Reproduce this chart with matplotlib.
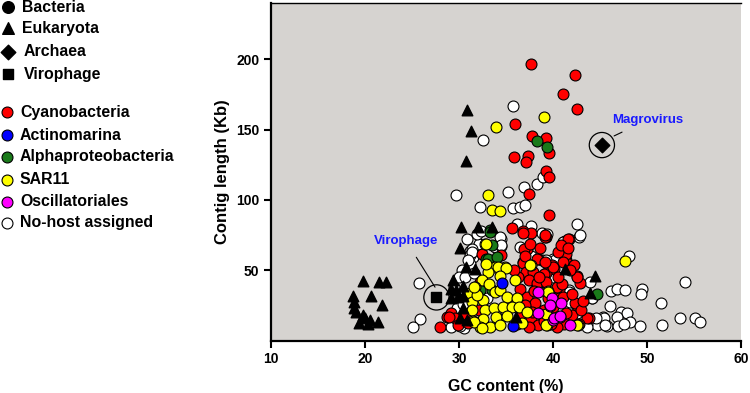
import matplotlib
matplotlib.use("Agg")
import matplotlib.pyplot as plt
import numpy as np

plt.rcParams['font.family'] = ['Liberation Sans', 'DejaVu Sans']
plt.rcParams['font.weight'] = 'bold'

# ---- data (GC %, contig length Kb) ----
nohost_x = [35.7, 32.5, 29.7, 35.2, 36.9, 38.3, 38.9, 32.2, 35.7, 36.5, 37.0, 42.5, 42.8, 41.3, 38.8,
            37.7, 36.2, 34.5, 33.8, 34.5, 31.2, 31.5, 31.2, 32.1, 36.5, 37.7, 40.0, 38.8,
            39.4, 41.1, 48.1, 54.0, 46.2, 46.8, 47.7, 49.5, 49.4, 46.1, 51.5, 47.2, 47.9, 45.3, 46.8,
            48.2, 49.3, 51.6, 53.5, 55.1, 55.6, 45.7, 44.7, 46.9, 44.1, 43.9, 41.8, 41.7, 43.6, 42.5,
            40.2, 45.4, 45.5, 47.5,
            25.7, 25.9, 25.1, 31.4, 31.2, 31.9, 34.4, 34.5, 30.3, 30.1, 30.8, 29.8, 29.2, 30.5, 42.9,
            41.1, 39.3, 41.7, 44.1, 41.8, 44.6, 43.6, 41.3, 30.1, 31.4, 29.5, 30.0, 33.0, 35.0, 38.0, 40.0,
            30.6, 31.0, 30.9, 31.6, 32.3, 30.4]
nohost_y = [166.9, 142.8, 103.6, 105.5, 109.5, 111.4, 116, 95.3, 94.4, 94.8, 96.5, 82.6, 74, 70.8, 76.4,
            81.2, 82.6, 72.4, 66.5, 67, 64, 59.4, 54.7, 68.9, 66.5, 60, 58.3, 57,
            76, 70, 59.9, 41.7, 35.4, 37, 36.3, 37, 33, 24.5, 26.8, 20.5, 19.8, 16.5, 17,
            13.4, 10.3, 11, 15.8, 15.8, 13.4, 10.3, 11, 10.3, 30, 41.7, 31, 36.3, 11.8, 19.3,
            57, 15.8, 11, 12,
            40.6, 15.1, 9.8, 65.4, 60.6, 76, 73.6, 67.7, 50, 31, 28.7, 22.9, 9.8, 8.7, 74.8,
            70, 57, 34.6, 30, 27.5, 15.8, 9.8, 15.8, 10.3, 63, 38, 45, 30, 20, 35, 45,
            45, 57, 72, 48, 78, 26]

cyano_x = [37.7, 42.3, 41.1, 42.6, 36.0, 37.8, 39.3, 39.6, 35.8, 37.3, 37.1, 39.3, 39.6, 37.4,
           39.6, 35.6, 36.8, 37.7, 39.3, 41.7, 37.2, 41.2, 32.4, 34.5, 41.4, 36.8, 38.4, 39.9,
           39.1, 41.4, 40.1, 42.5, 42.9, 39.0, 39.3, 40.6, 42.5, 42.0, 43.8, 41.2, 40.6,
           36.8, 37.1, 37.9, 39.0, 40.0, 37.4, 38.3, 39.3, 40.4, 36.5, 37.2, 38.1, 39.0, 37.0,
           36.5, 37.7, 38.4, 37.4, 40.4, 41.4, 42.3, 41.1, 42.5, 41.4, 41.1, 42.2, 43.6, 36.9,
           38.3, 39.1, 36.8, 39.1, 41.6,
           28.7, 29.2, 28.0, 29.6, 30.5, 29.9, 31.0, 32.1, 32.2, 28.9,
           38.0, 39.5, 38.8, 40.0, 36.0, 37.8, 39.0, 41.0, 42.0, 43.0, 38.5, 40.5, 36.3, 35.8,
           37.0, 40.5, 41.8, 43.2, 42.8, 39.8, 36.2, 40.8, 41.6, 37.6, 38.6]
cyano_y = [196.4, 188.6, 175.6, 165, 154, 145.6, 143.7, 133.4, 130.3, 131, 126.7, 120.3, 116, 104.3,
           89, 80, 77.6, 76.4, 74, 72.4, 65.4, 62.3, 61.3, 60.6, 57, 55.9, 58.3, 53.5,
           74, 56, 51.2, 45.8, 40.6, 41.7, 48, 36.3, 24.5, 18.1, 15.8, 11.8, 30,
           55.2, 48.8, 48.8, 47.7, 52.3, 42.9, 40.6, 41.7, 38.2, 37, 31, 26.4, 21.7, 25.2,
           18.1, 15.8, 11, 9.8, 9.8, 19.3, 26.4, 31, 45.3, 61.8, 55.9, 53.5, 15.8, 65.4,
           58.3, 55.9, 76.4, 74.8, 72.4,
           17, 19.3, 9.8, 15.8, 17.4, 11, 12.2, 21.7, 41.7, 17,
           35, 30, 18, 24, 28, 20, 14, 40, 33, 22, 45, 45, 45, 50,
           60, 63, 50, 28, 12, 12, 12, 68, 66, 69, 66]

alpha_x = [38.3, 39.4, 33.3, 33.5, 32.9, 33.8, 33.3, 33.1, 34.0, 32.2, 33.5, 44.7]
alpha_y = [142, 137.8, 78.8, 67.7, 58.3, 57, 77, 58.3, 59.4, 35.8, 35.8, 33]

sar11_x = [33.9, 39.0, 33.1, 33.5, 34.4, 32.8, 37.7, 33.8, 34.9, 47.7, 39.5, 39.3, 39.4, 42.7,
           32.9, 34.2, 35.0, 33.1, 32.4, 33.2, 34.4, 36.0, 31.7, 31.2, 31.4, 32.6, 33.8, 34.4,
           35.1, 36.2, 31.4, 32.8, 33.7, 34.7, 35.6, 36.4, 37.2, 31.5, 32.6, 33.9, 35.1, 32.2,
           33.3, 34.4, 36.7, 37.6, 39.5, 39.3, 42.5, 32.9, 31.9, 31.6, 31.6, 32.4]
sar11_y = [152, 159, 103.6, 93, 91.8, 68.4, 53.5, 52.3, 52.3, 56.4, 35.4, 18.8, 11, 11,
           68.4, 52.3, 51.9, 48.8, 43.4, 40, 45.7, 43.4, 38.2, 33.5, 27.5, 28.7, 34.6, 35.8,
           31, 30, 21.7, 21.7, 22.9, 24, 24, 24, 20.5, 14.1, 15.1, 16.5, 17.4, 9.8,
           9.8, 11, 12.2, 53.5, 34.6, 11, 11, 54.7, 32.3, 38.2, 13.4, 8.7]

oscill_x = [39.9, 40.9, 39.7, 40.7, 40.0, 41.8, 38.4, 38.4, 40.1, 40.7, 39.7]
oscill_y = [30, 26.8, 24.5, 17, 15, 11, 34.6, 19.3, 15.8, 17.4, 25.2]

actino_x = [34.6, 35.7]
actino_y = [40.6, 10.3]

euk_x = [19.8, 21.5, 22.2, 18.7, 20.6, 21.8, 18.8, 18.8, 19.8, 19.4, 20.3, 21.4, 20.0, 19.0, 20.5,
         30.9, 31.3, 30.7, 30.2, 32.0, 33.5, 30.1, 30.7, 31.7, 29.4, 29.2, 29.7, 29.2, 30.4, 29.9,
         30.8, 30.4, 30.4, 30.1, 41.3, 44.5, 43.9, 36.1]
euk_y = [42.2, 41.5, 41.5, 31.6, 31.6, 25.2, 27.3, 23.1, 18.1, 12.5, 11.8, 13.2, 16, 20, 14.6,
         164, 149, 128, 81, 81, 81, 66, 52, 51, 43, 37, 36, 30, 39, 31,
         14.6, 32, 23, 16, 51, 46, 34, 17]

archaea_x, archaea_y = [45.2], [139]        # Magrovirus
virophage_x, virophage_y = [27.6], [30.7]

fig = plt.figure(figsize=(7.5, 3.93), dpi=100)
ax = fig.add_axes([271 / 750, 1 - 340.6 / 393, 470 / 750, 337.6 / 393])
ax.set_facecolor('#d6d3d0')

ms = 62
ek = dict(edgecolors='black', linewidths=0.8)
ax.scatter(nohost_x, nohost_y, s=ms, c='white', zorder=2, **ek)
ax.scatter(cyano_x, cyano_y, s=ms, c='#ff0000', zorder=3, **ek)
ax.scatter(alpha_x, alpha_y, s=ms, c='#1a7a1a', zorder=3, **ek)
ax.scatter(sar11_x, sar11_y, s=ms, c='#ffff00', zorder=4, **ek)
ax.scatter(oscill_x, oscill_y, s=ms, c='#ff00ff', zorder=4, **ek)
ax.scatter(actino_x, actino_y, s=ms, c='#0000ff', zorder=5, **ek)
ax.scatter(euk_x, euk_y, s=58, marker='^', c='black', zorder=5)
ax.scatter(archaea_x, archaea_y, s=55, marker='D', c='black', zorder=5)
ax.scatter(virophage_x, virophage_y, s=45, marker='s', c='black', zorder=5)

# rings around highlighted viruses
ax.scatter(archaea_x + virophage_x, archaea_y + virophage_y, s=330, facecolors='none',
           edgecolors='black', linewidths=0.9, zorder=5)

ax.annotate('Virophage', xy=(27.45, 38), xytext=(24.4, 70.5), color='#1a1aff',
            fontsize=9.5, fontweight='bold', ha='center', va='center',
            arrowprops=dict(arrowstyle='-', color='black', lw=0.8, shrinkA=6, shrinkB=0))
ax.annotate('Magrovirus', xy=(46.5, 145.5), xytext=(50.1, 157), color='#1a1aff',
            fontsize=9.5, fontweight='bold', ha='center', va='center',
            arrowprops=dict(arrowstyle='-', color='black', lw=0.8, shrinkA=6, shrinkB=0))

ax.set_xlim(10, 60)
ax.set_ylim(0, 240)
ax.set_xticks([10, 20, 30, 40, 50, 60])
ax.set_yticks([50, 100, 150, 200])
ax.tick_params(direction='out', length=5, width=1.5, labelsize=10)
for lab in ax.get_xticklabels() + ax.get_yticklabels():
    lab.set_fontweight('bold')
ax.spines['left'].set_linewidth(1.6)
ax.spines['bottom'].set_linewidth(1.6)
ax.spines['top'].set_linewidth(1.0)
ax.spines['right'].set_visible(False)
ax.set_xlabel('GC content (%)', fontsize=11.5, fontweight='bold', labelpad=9)
ax.set_ylabel('Contig length (Kb)', fontsize=12, fontweight='bold', labelpad=4)

# ---- legend drawn on an overlay in pixel coordinates ----
lax = fig.add_axes([0, 0, 1, 1], zorder=10)
lax.set_xlim(0, 750)
lax.set_ylim(393, 0)
lax.axis('off')

shape_labels = ['Bacteria', 'Eukaryota', 'Archaea', 'Virophage']
shape_markers = ['o', '^', 'D', 's']
shape_sizes = [70, 70, 55, 55]
shape_rows = [7, 28, 52, 74]
for lab, mk, sz, yy in zip(shape_labels, shape_markers, shape_sizes, shape_rows):
    lax.scatter([7.5], [yy], marker=mk, s=sz, c='black')
    lax.text(22 if mk in 'o^' else 23.5, yy, lab, fontsize=11.4, fontweight='bold', va='center')

host_labels = ['Cyanobacteria', 'Actinomarina', 'Alphaproteobacteria', 'SAR11',
               'Oscillatoriales', 'No-host assigned']
host_colors = ['#ff0000', '#0000ff', '#1a7a1a', '#ffff00', '#ff00ff', 'white']
host_rows = [112, 135, 157, 180, 202, 223]
for lab, col, yy in zip(host_labels, host_colors, host_rows):
    lax.scatter([6.5], [yy], s=62, c=col, edgecolors='black', linewidths=0.8)
    lax.text(20, yy, lab, fontsize=11.4, fontweight='bold', va='center')

fig.savefig('out.png', dpi=100)
